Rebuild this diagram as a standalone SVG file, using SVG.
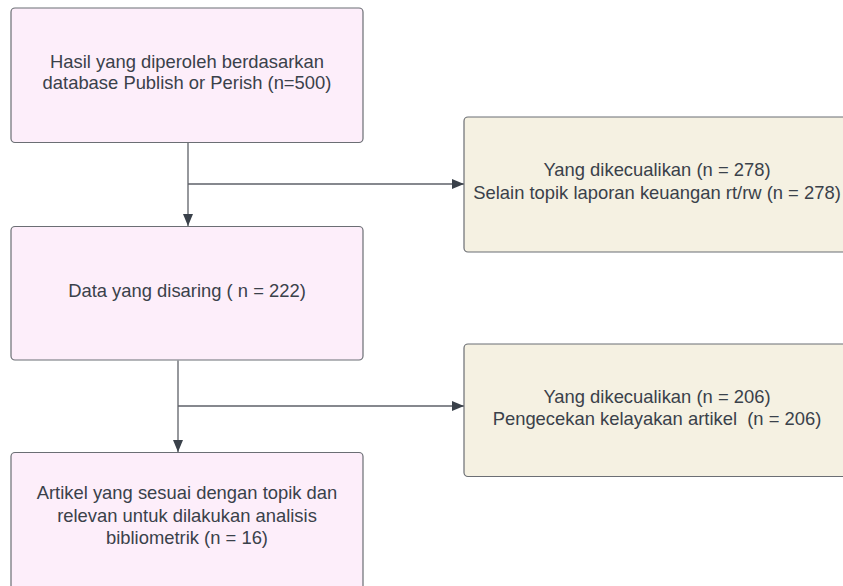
<svg xmlns="http://www.w3.org/2000/svg" width="843" height="586" viewBox="0 0 843 586">
<style>
.box{stroke:#6b6e74;stroke-width:1.2}
.pink{fill:#fdeefa}
.tan{fill:#f5f1e2}
.t{font-family:"Liberation Sans",Arial,sans-serif;font-size:18.4px;fill:#3a414a;text-anchor:middle}
.c{fill:none;stroke:#5e6168;stroke-width:1.3}
</style>
<defs>
<marker id="ah" viewBox="0 0 12 10" refX="12" refY="5" markerWidth="12" markerHeight="10" markerUnits="userSpaceOnUse" orient="auto">
<path d="M0,0 L12,5 L0,10 z" fill="#3a414a"/>
</marker>
</defs>
<rect width="843" height="586" fill="#ffffff"/>
<g id="connectors">
<path class="c" d="M188,142.5 V226" marker-end="url(#ah)"/>
<path class="c" d="M188,184 H464" marker-end="url(#ah)"/>
<path class="c" d="M178,360.5 V452" marker-end="url(#ah)"/>
<path class="c" d="M178,406 H464" marker-end="url(#ah)"/>
</g>
<g id="n1">
<rect class="box pink" x="11" y="8" width="352" height="134.5" rx="4"/>
<text class="t" x="187" y="68">Hasil yang diperoleh berdasarkan</text>
<text class="t" x="187" y="89">database Publish or Perish (n=500)</text>
</g>
<g id="n2">
<rect class="box tan" x="464" y="117" width="390" height="135" rx="4"/>
<text class="t" x="657" y="176">Yang dikecualikan (n = 278)</text>
<text class="t" x="657" y="198.5">Selain topik laporan keuangan rt/rw (n = 278)</text>
</g>
<g id="n3">
<rect class="box pink" x="11" y="226.5" width="352" height="133.5" rx="4"/>
<text class="t" x="187" y="297">Data yang disaring ( n = 222)</text>
</g>
<g id="n4">
<rect class="box tan" x="464" y="344" width="390" height="132.5" rx="4"/>
<text class="t" x="657" y="402.5">Yang dikecualikan (n = 206)</text>
<text class="t" x="657" y="425" xml:space="preserve">Pengecekan kelayakan artikel  (n = 206)</text>
</g>
<g id="n5">
<rect class="box pink" x="11" y="452.5" width="352" height="140" rx="4"/>
<text class="t" x="187" y="499">Artikel yang sesuai dengan topik dan</text>
<text class="t" x="187" y="521.5">relevan untuk dilakukan analisis</text>
<text class="t" x="187" y="544">bibliometrik (n = 16)</text>
</g>
</svg>
